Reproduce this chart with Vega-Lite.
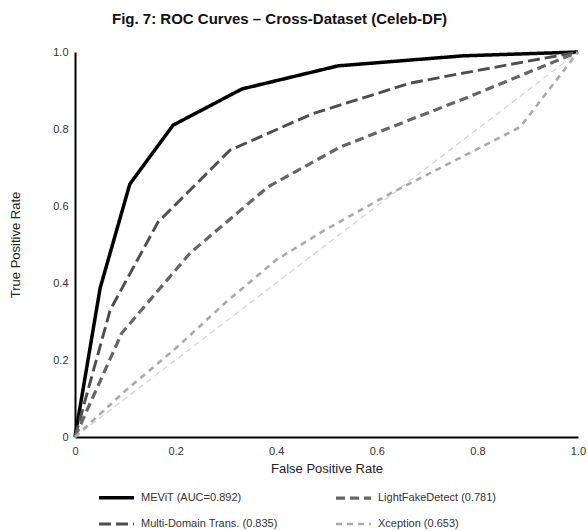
{
  "$schema": "https://vega.github.io/schema/vega-lite/v6.json",
  "width": 503,
  "height": 385,
  "autosize": {"type": "none"},
  "padding": {"left": 75, "top": 52, "right": 10, "bottom": 94},
  "background": "white",
  "title": {
    "text": "Fig. 7: ROC Curves – Cross-Dataset (Celeb-DF)",
    "font": "Liberation Sans",
    "fontSize": 15,
    "fontWeight": "bold",
    "color": "#111",
    "anchor": "middle",
    "dx": -47,
    "offset": 18
  },
  "config": {"view": {"stroke": null}},
  "datasets": {
    "roc": [
      {"model": "MEViT (AUC=0.892)", "fpr": 0, "tpr": 0},
      {"model": "MEViT (AUC=0.892)", "fpr": 0.05, "tpr": 0.387},
      {"model": "MEViT (AUC=0.892)", "fpr": 0.109, "tpr": 0.657},
      {"model": "MEViT (AUC=0.892)", "fpr": 0.195, "tpr": 0.81},
      {"model": "MEViT (AUC=0.892)", "fpr": 0.332, "tpr": 0.904},
      {"model": "MEViT (AUC=0.892)", "fpr": 0.523, "tpr": 0.964},
      {"model": "MEViT (AUC=0.892)", "fpr": 0.771, "tpr": 0.99},
      {"model": "MEViT (AUC=0.892)", "fpr": 1, "tpr": 1},
      {"model": "Multi-Domain Trans. (0.835)", "fpr": 0, "tpr": 0},
      {"model": "Multi-Domain Trans. (0.835)", "fpr": 0.07, "tpr": 0.33},
      {"model": "Multi-Domain Trans. (0.835)", "fpr": 0.165, "tpr": 0.558},
      {"model": "Multi-Domain Trans. (0.835)", "fpr": 0.308, "tpr": 0.745},
      {"model": "Multi-Domain Trans. (0.835)", "fpr": 0.473, "tpr": 0.84},
      {"model": "Multi-Domain Trans. (0.835)", "fpr": 0.666, "tpr": 0.919},
      {"model": "Multi-Domain Trans. (0.835)", "fpr": 0.771, "tpr": 0.945},
      {"model": "Multi-Domain Trans. (0.835)", "fpr": 1, "tpr": 1},
      {"model": "LightFakeDetect (0.781)", "fpr": 0, "tpr": 0},
      {"model": "LightFakeDetect (0.781)", "fpr": 0.093, "tpr": 0.27},
      {"model": "LightFakeDetect (0.781)", "fpr": 0.229, "tpr": 0.478},
      {"model": "LightFakeDetect (0.781)", "fpr": 0.384, "tpr": 0.65},
      {"model": "LightFakeDetect (0.781)", "fpr": 0.527, "tpr": 0.753},
      {"model": "LightFakeDetect (0.781)", "fpr": 0.78, "tpr": 0.882},
      {"model": "LightFakeDetect (0.781)", "fpr": 1, "tpr": 1},
      {"model": "Xception (0.653)", "fpr": 0, "tpr": 0},
      {"model": "Xception (0.653)", "fpr": 0.1, "tpr": 0.12},
      {"model": "Xception (0.653)", "fpr": 0.2, "tpr": 0.23},
      {"model": "Xception (0.653)", "fpr": 0.3, "tpr": 0.35},
      {"model": "Xception (0.653)", "fpr": 0.4, "tpr": 0.46},
      {"model": "Xception (0.653)", "fpr": 0.5, "tpr": 0.54},
      {"model": "Xception (0.653)", "fpr": 0.632, "tpr": 0.636},
      {"model": "Xception (0.653)", "fpr": 0.885, "tpr": 0.805},
      {"model": "Xception (0.653)", "fpr": 1, "tpr": 1}
    ],
    "chance": [
      {"fpr": 0, "tpr": 0},
      {"fpr": 1, "tpr": 1}
    ]
  },
  "encoding": {
    "x": {
      "field": "fpr",
      "type": "quantitative",
      "scale": {"domain": [0, 1], "nice": false},
      "axis": {
        "title": "False Positive Rate",
        "values": [0, 0.2, 0.4, 0.6, 0.8, 1],
        "labelExpr": "datum.value == 0 ? '0' : format(datum.value, '.1f')",
        "ticks": false,
        "grid": false,
        "labelFlush": false,
        "domainColor": "#000",
        "domainWidth": 2,
        "labelPadding": 8,
        "labelFont": "Liberation Sans",
        "labelFontSize": 11,
        "labelColor": "#333",
        "titleFont": "Liberation Sans",
        "titleFontSize": 13,
        "titleFontWeight": "normal",
        "titleColor": "#222",
        "titlePadding": 6
      }
    },
    "y": {
      "field": "tpr",
      "type": "quantitative",
      "scale": {"domain": [0, 1], "nice": false},
      "axis": {
        "title": "True Positive Rate",
        "values": [0, 0.2, 0.4, 0.6, 0.8, 1],
        "labelExpr": "datum.value == 0 ? '0' : format(datum.value, '.1f')",
        "ticks": false,
        "grid": false,
        "labelFlush": false,
        "domainColor": "#000",
        "domainWidth": 2,
        "labelPadding": 7,
        "labelFont": "Liberation Sans",
        "labelFontSize": 11,
        "labelColor": "#333",
        "titleFont": "Liberation Sans",
        "titleFontSize": 13,
        "titleFontWeight": "normal",
        "titleColor": "#222",
        "titlePadding": 30
      }
    }
  },
  "layer": [
    {
      "data": {"name": "chance"},
      "mark": {"type": "line", "color": "#d3d3d3", "strokeWidth": 1.2, "strokeDash": [6, 4]},
      "encoding": {}
    },
    {
      "data": {"name": "roc"},
      "mark": {"type": "line"},
      "encoding": {
        "color": {
          "field": "model",
          "type": "nominal",
          "scale": {
            "domain": ["MEViT (AUC=0.892)", "LightFakeDetect (0.781)", "Multi-Domain Trans. (0.835)", "Xception (0.653)"],
            "range": ["#000000", "#666666", "#4d4d4d", "#aaaaaa"]
          },
          "legend": {
            "title": null,
            "orient": "none",
            "legendX": 22,
            "legendY": 426,
            "columns": 2,
            "direction": "horizontal",
            "symbolType": "stroke",
            "symbolSize": 1225,
            "columnPadding": 51,
            "rowPadding": -14,
            "labelOffset": 5,
            "labelFont": "Liberation Sans",
            "labelFontSize": 11,
            "labelColor": "#333"
          }
        },
        "strokeDash": {
          "field": "model",
          "type": "nominal",
          "scale": {
            "domain": ["MEViT (AUC=0.892)", "LightFakeDetect (0.781)", "Multi-Domain Trans. (0.835)", "Xception (0.653)"],
            "range": [[1, 0], [9, 5], [12, 5], [6, 5]]
          }
        },
        "strokeWidth": {
          "field": "model",
          "type": "nominal",
          "scale": {
            "domain": ["MEViT (AUC=0.892)", "LightFakeDetect (0.781)", "Multi-Domain Trans. (0.835)", "Xception (0.653)"],
            "range": [3.5, 2.6, 3, 2]
          }
        }
      }
    }
  ]
}
